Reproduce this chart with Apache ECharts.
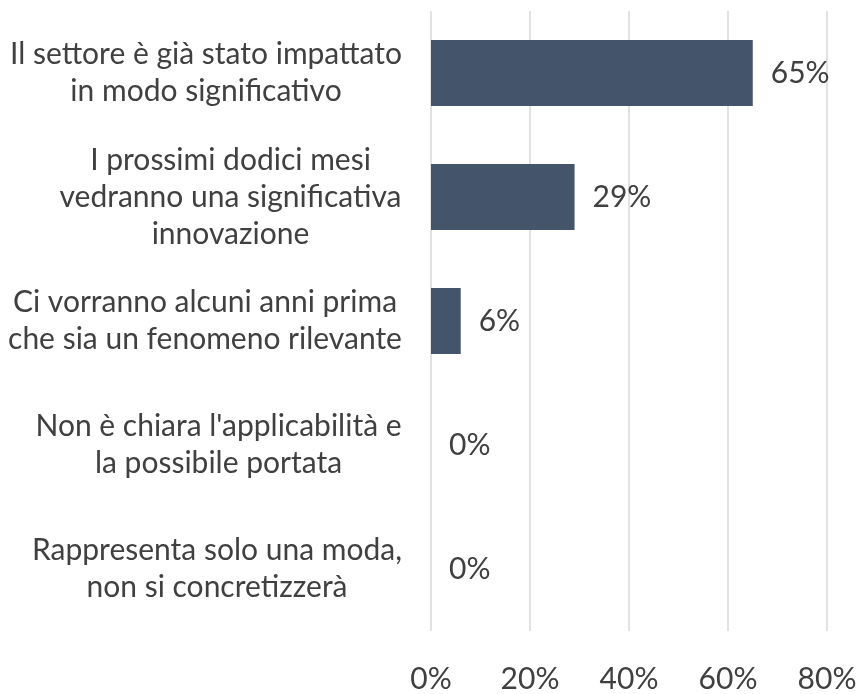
<!DOCTYPE html>
<html>
<head>
<meta charset="utf-8">
<script src="https://cdn.jsdelivr.net/npm/echarts@6/dist/echarts.min.js"></script>
<style>
html,body{margin:0;padding:0;background:#fff;}
#chart{width:860px;height:694px;}
</style>
</head>
<body>
<div id="chart"></div>
<script>
const categories = [
  "Il settore è già stato impattato\nin modo significativo",
  "I prossimi dodici mesi\nvedranno una significativa\ninnovazione",
  "Ci vorranno alcuni anni prima\nche sia un fenomeno rilevante",
  "Non è chiara l'applicabilità e\nla possibile portata",
  "Rappresenta solo una moda,\nnon si concretizzerà"
];
const values = [65, 29, 6, 0, 0];
const xMin = 0, xMax = 80, xStep = 20;

const FONT = 'Lato';
const FS = 30;
const TXT = '#404040';

const ctx = document.createElement('canvas').getContext('2d');
ctx.font = FS + 'px ' + FONT;
const rich = {};
categories.forEach((c, i) => {
  const w = Math.max(...c.split('\n').map(l => ctx.measureText(l).width));
  rich['r' + i] = {width: Math.ceil(w), align: 'center', fontSize: FS, fontFamily: FONT, color: TXT, lineHeight: 37};
});

const chart = echarts.init(document.getElementById('chart'), null, {renderer: 'canvas'});
chart.setOption({
  animation: false,
  grid: {left: 431, right: 33, top: 11, bottom: 58},
  xAxis: {
    type: 'value', min: xMin, max: xMax, interval: xStep,
    axisLine: {show: false}, axisTick: {show: false},
    splitLine: {show: true, lineStyle: {color: '#d9d9d9', width: 1.5}},
    axisLabel: {formatter: '{value}%', fontSize: FS, fontFamily: FONT, color: TXT, margin: 33}
  },
  yAxis: {
    type: 'category', inverse: true, data: categories,
    axisLine: {show: false}, axisTick: {show: false},
    axisLabel: {
      margin: 29, align: 'right', rich: rich,
      formatter: (v, i) => v.split('\n').map(l => '{r' + i + '|' + l + '}').join('\n')
    }
  },
  series: [{
    type: 'bar', data: values, barWidth: 66,
    itemStyle: {color: '#44546a'},
    label: {show: true, position: 'right', distance: 18, formatter: '{c}%', fontSize: FS, fontFamily: FONT, color: TXT}
  }]
});
</script>
</body>
</html>
